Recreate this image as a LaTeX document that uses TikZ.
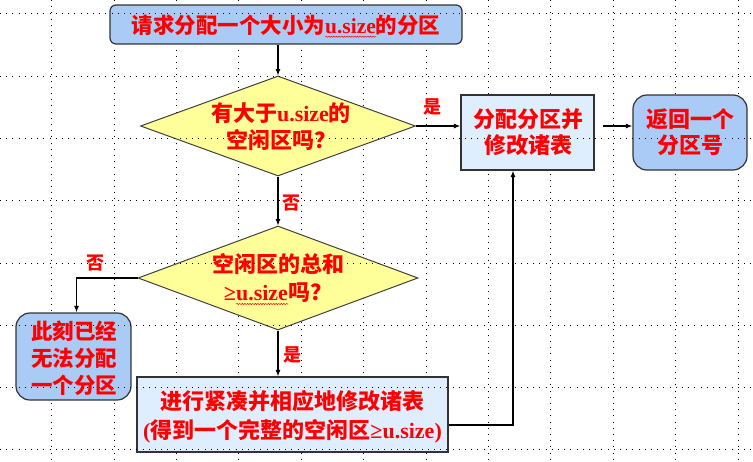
\documentclass[tikz,border=0pt]{standalone}
\usepackage{fontspec}
\setmainfont{Liberation Serif}
\newfontfamily\cjk{Noto Sans CJK SC}
\usetikzlibrary{shapes.geometric,arrows.meta,decorations.pathmorphing}
\definecolor{boxblue}{RGB}{170,203,245}
\definecolor{lightblue}{RGB}{222,238,255}
\definecolor{diayellow}{RGB}{255,255,153}
\definecolor{txtred}{RGB}{255,0,0}
\newsavebox\wvbox
\newcommand\wavyu[1]{\sbox\wvbox{#1}\rlap{\smash{\tikz[baseline=0pt,x=1pt,y=1pt]{\draw[txtred, line width=0.5pt, decorate, decoration={snake, amplitude=0.6pt, segment length=2.6pt}] (0,-3.5) -- (\the\wd\wvbox,-3.5);}}}\usebox\wvbox}
\begin{document}
\begin{tikzpicture}[x=1pt,y=-1pt,
  gridline/.style={black, line width=1pt, dash pattern=on 1pt off 5.2pt},
  bx/.style={draw=black!80, line width=1.2pt, inner sep=0pt, rectangle},
  dia/.style={diamond, draw=black!75, line width=1pt, fill=diayellow, inner sep=0pt},
  txt/.style={text=txtred, align=center, inner sep=0pt},
  lab/.style={text=txtred, inner sep=0pt, font=\cjk\bfseries\fontsize{18}{20}\selectfont},
  arr/.style={-{Latex[length=6.5pt,width=5pt]}, line width=1.1pt, black}]
\useasboundingbox (0,0) rectangle (753,461);
% vertical grid (behind)
\foreach \x in {51.6,114,176.4,238.8,301.2,363.6,426,488.4,550.8,613.2,675.6,738}
  \draw[gridline] (\x,0) -- (\x,461);
% shapes
\node[bx, fill=boxblue, rounded corners=6pt, minimum width=352pt, minimum height=39pt] (top) at (286,24.5) {};
\node[dia, minimum width=275pt, minimum height=100pt] (d1) at (278,126) {};
\node[dia, minimum width=280pt, minimum height=104pt] (d2) at (278,278) {};
\node[bx, fill=lightblue, minimum width=133pt, minimum height=75pt] (b1) at (527.5,132.5) {};
\node[bx, fill=boxblue, rounded corners=14pt, minimum width=114pt, minimum height=75pt] (b2) at (690,132.5) {};
\node[bx, fill=boxblue, rounded corners=14pt, minimum width=115pt, minimum height=87pt] (L) at (73.5,356.5) {};
\node[bx, fill=lightblue, minimum width=311pt, minimum height=75pt] (B) at (292.5,414.5) {};
% horizontal grid (over shapes)
\foreach \y in {13.8,76.1,138.4,200.7,263,325.3,387.6,449.9}
  \draw[gridline] (0,\y) -- (753,\y);
% texts
\node[txt, font=\bfseries\fontsize{21.5}{26}\selectfont] (ttop) at (286,25) {{\cjk 请求分配一个大小为}\wavyu{u.size}{\cjk 的分区}};
\node[txt, font=\bfseries\fontsize{22}{27}\selectfont] (td1) at (281,127) {{\cjk 有大于}u.size{\cjk 的}\\{\cjk 空闲区吗？}};
\node[txt, font=\bfseries\fontsize{22}{28}\selectfont] (td2) at (278,278) {{\cjk 空闲区的总和}\\≥\wavyu{u.size}{\cjk 吗？}};
\node[txt, font=\cjk\bfseries\fontsize{22}{26}\selectfont] (tb1) at (528,132) {分配分区并\\修改诸表};
\node[txt, font=\cjk\bfseries\fontsize{22}{26}\selectfont] (tb2) at (690,132) {返回一个\\分区号};
\node[txt, font=\cjk\bfseries\fontsize{21.5}{27}\selectfont] (tL) at (74,358) {此刻已经\\无法分配\\一个分区};
\node[txt, font=\bfseries\fontsize{22}{29}\selectfont] (tB) at (292.5,417) {{\cjk 进行紧凑并相应地修改诸表}\\({\cjk 得到一个完整的空闲区}≥u.size)};
% labels
\node[lab] (l1) at (432,107) {是};
\node[lab] (l2) at (291,203) {否};
\node[lab] (l3) at (95,263) {否};
\node[lab] (l4) at (292,355) {是};
% connectors
\coordinate (bend) at (513,425);
\draw[arr] (d1.north |- top.south) -- (d1.north);
\draw[arr] (d1.south) -- (d2.north);
\draw[arr] (d1.east) -- (d1.east -| b1.west);
\draw[arr, shorten <=8pt] (d1.east -| b1.east) -- (d1.east -| b2.west);
\draw[arr] (d2.west) -| ([xshift=3pt]L.north);
\draw[arr] (d2.south) -- (d2.south |- B.north);
\draw[arr] (B.east |- bend) -- (bend) -- (bend |- b1.south);
\end{tikzpicture}
\end{document}
